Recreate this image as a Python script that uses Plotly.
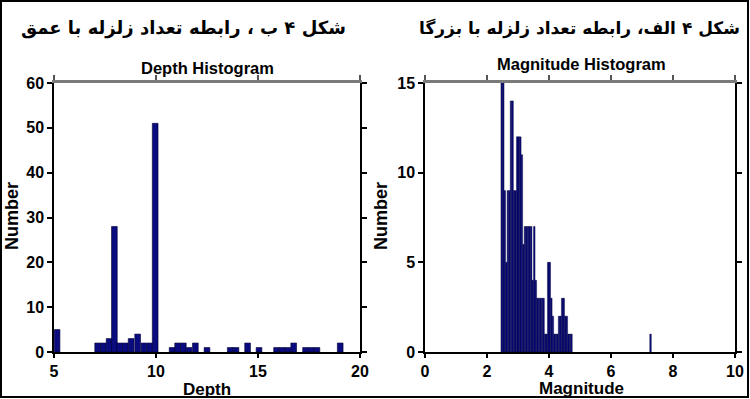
import plotly.graph_objects as go

# ---------------- data ----------------
depth_centers = [5.15,
                 7.14, 7.42, 7.70, 7.96, 8.22, 8.50, 8.78, 9.10, 9.41, 9.70, 9.96,
                 10.79, 11.06, 11.34, 11.62, 11.93, 12.50,
                 13.64, 13.92, 14.49, 15.05, 15.91, 16.19, 16.47, 16.75,
                 17.33, 17.61, 17.89, 19.03]
depth_counts = [5,
                2, 2, 3, 28, 2, 2, 3, 4, 2, 2, 51,
                1, 2, 2, 1, 2, 1,
                1, 1, 2, 1, 1, 1, 1, 2,
                1, 1, 1, 2]

mag_centers = [2.475, 2.525, 2.575, 2.625, 2.675, 2.725, 2.775, 2.825, 2.875, 2.925,
               2.975, 3.025, 3.075, 3.125, 3.175, 3.225, 3.275, 3.325, 3.375, 3.425,
               3.475, 3.525, 3.575, 3.625, 3.675, 3.725, 3.775, 3.825, 3.875, 3.925,
               3.975, 4.025, 4.075, 4.125, 4.175, 4.225, 4.275, 4.325, 4.375, 4.425,
               4.475, 4.525, 4.575, 4.625, 4.675, 4.725, 7.275]
mag_counts = [15, 15, 9, 5, 9, 9, 14, 14, 9, 9,
              12, 12, 12, 11, 6, 7, 7, 7, 7, 7,
              4, 7, 4, 3, 3, 3, 3, 3, 1, 1,
              5, 5, 3, 2, 1, 1, 1, 2, 2, 3,
              3, 2, 2, 1, 1, 1, 1]

depth_ticks = [5, 10, 15, 20]
depth_count_ticks = [0, 10, 20, 30, 40, 50, 60]
mag_ticks = [0, 2, 4, 6, 8, 10]
mag_count_ticks = [0, 5, 10, 15]

title_left = "شکل ۴ ب ، رابطه تعداد زلزله با عمق"
title_right = "شکل ۴ الف، رابطه تعداد زلزله با بزرگا"

DEPTH_BIN = 0.28
MAG_BIN = 0.05

# ---------------- figure ----------------
W, H = 750, 399
BAR = "#0b0b80"
EDGE = "#000030"
FONT = "Liberation Sans, Arial, sans-serif"

fig = go.Figure()
fig.add_trace(go.Bar(x=depth_centers, y=depth_counts, width=DEPTH_BIN,
                     xaxis="x", yaxis="y",
                     marker=dict(color=BAR, line=dict(color=EDGE, width=0.6))))
fig.add_trace(go.Bar(x=mag_centers, y=mag_counts, width=MAG_BIN,
                     xaxis="x2", yaxis="y2",
                     marker=dict(color=BAR, line=dict(color=EDGE, width=0.4))))
# invisible traces for top (gray) axes
fig.add_trace(go.Scatter(x=[None], y=[None], xaxis="x3", yaxis="y", showlegend=False))
fig.add_trace(go.Scatter(x=[None], y=[None], xaxis="x4", yaxis="y2", showlegend=False))

ydom = [1 - 352 / H, 1 - 83 / H]
xdom1 = [54 / W, 360 / W]
xdom2 = [425 / W, 735 / W]

tickfont = dict(family=FONT, size=16, color="black", weight="bold")

def xax(dom, rng, ticks, anchor):
    return dict(domain=dom, range=rng, anchor=anchor, tickvals=ticks,
                showline=True, linecolor="black", linewidth=1.5,
                ticks="outside", ticklen=4, tickwidth=1.5, tickcolor="black",
                tickfont=tickfont, showgrid=False, zeroline=False, fixedrange=True,
                automargin=False)

def yax(rng, ticks, anchor):
    return dict(domain=ydom, range=rng, anchor=anchor, tickvals=ticks,
                showline=True, linecolor="black", linewidth=1.5, mirror="ticks",
                ticks="outside", ticklen=5, tickwidth=1.5, tickcolor="black",
                tickfont=tickfont, showgrid=False, zeroline=False, fixedrange=True,
                automargin=False)

def topax(dom, rng, ticks, over, anchor):
    return dict(domain=dom, range=rng, overlaying=over, anchor=anchor, side="top",
                tickvals=ticks, showticklabels=False,
                showline=True, linecolor="#7a7a7a", linewidth=2.5,
                ticks="outside", ticklen=5, tickwidth=1.5, tickcolor="#555555",
                showgrid=False, zeroline=False, fixedrange=True, automargin=False)

fig.update_layout(
    width=W, height=H,
    margin=dict(l=0, r=0, t=0, b=0, pad=0, autoexpand=False),
    paper_bgcolor="white", plot_bgcolor="white",
    showlegend=False,
    xaxis=xax(xdom1, [5, 20], depth_ticks, "y"),
    yaxis=yax([0, 60], depth_count_ticks, "x"),
    xaxis2=xax(xdom2, [0, 10], mag_ticks, "y2"),
    yaxis2=yax([0, 15], mag_count_ticks, "x2"),
    xaxis3=topax(xdom1, [5, 20], depth_ticks, "x", "y"),
    xaxis4=topax(xdom2, [0, 10], mag_ticks, "x2", "y2"),
)

def ann(text, x, y, size, family=FONT, angle=0):
    fig.add_annotation(text=text, x=x / W, y=1 - y / H, xref="paper", yref="paper",
                       showarrow=False, textangle=angle,
                       font=dict(family=family, size=size, color="black", weight="bold"),
                       xanchor="center", yanchor="middle")

ann(title_left, 183, 28, 18, family="DejaVu Sans, Noto Sans, sans-serif")
ann(title_right, 579, 28, 17, family="DejaVu Sans, Noto Sans, sans-serif")
ann("Depth Histogram", 207, 68, 16.5)
ann("Magnitude Histogram", 581, 64, 16.5)
ann("Depth", 207, 389, 17)
ann("Magnitude", 581, 388, 17)
ann("Number", 12, 216, 18, angle=-90)
ann("Number", 381, 216, 18, angle=-90)

# outer frame
fig.add_shape(type="rect", xref="paper", yref="paper",
              x0=1 / W, x1=1 - 2 / W, y0=2 / H, y1=1 - 1 / H,
              line=dict(color="black", width=2))

fig.write_html("out.html",
               config={"displayModeBar": False},
               post_script="document.body.style.margin='0';document.body.style.overflow='hidden';")
